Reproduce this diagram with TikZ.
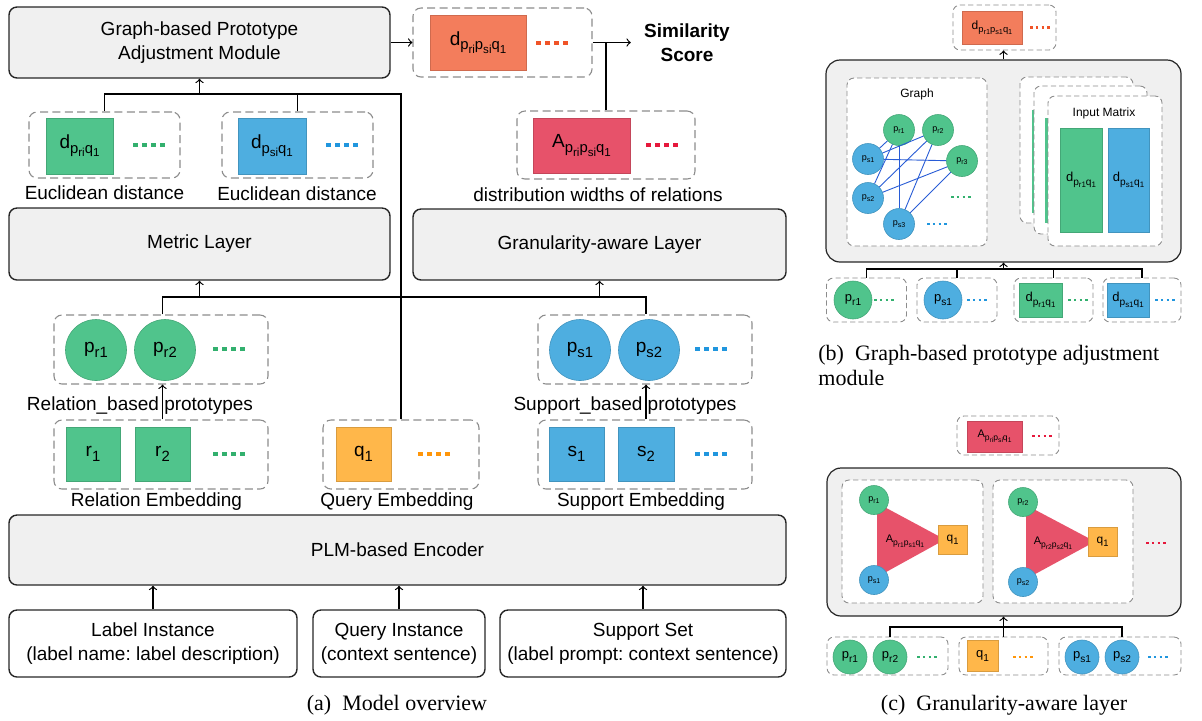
\documentclass[tikz,border=0pt]{standalone}
\usepackage{graphicx}
\usepackage{fontspec}
\setmainfont{Liberation Sans}
\newfontfamily\capfont{Liberation Serif}
\frenchspacing
\definecolor{laygray}{RGB}{240,240,240}
\definecolor{grpgray}{RGB}{140,140,140}
\definecolor{cgreen}{RGB}{80,196,140}
\definecolor{cblue}{RGB}{78,174,224}
\definecolor{corange}{RGB}{255,183,74}
\definecolor{csalmon}{RGB}{243,125,92}
\definecolor{cred}{RGB}{231,82,106}
\definecolor{dgreen}{RGB}{50,176,110}
\definecolor{dblue}{RGB}{32,150,222}
\definecolor{dorange}{RGB}{255,150,10}
\definecolor{dsalmon}{RGB}{240,84,40}
\definecolor{dred}{RGB}{230,24,60}
\definecolor{edgeblue}{RGB}{40,92,214}
\newcommand\sbs[1]{\raisebox{-0.45ex}{\scalebox{0.78}{#1}}}
\newcommand\fsz[1]{\fontsize{#1}{\fpeval{1.26*#1}}\selectfont}
\begin{document}
\begin{tikzpicture}[>=to,x=0.5pt,y=-0.5pt,
	wh/.style 2 args={minimum width=#1*0.5pt,minimum height=#2*0.5pt,inner sep=0pt},
	layerbox/.style={draw=black!85,line width=0.7pt,fill=laygray,rounded corners=4pt,align=center,font=\fsz{9.5}},
	inbox/.style={draw=black!85,line width=0.7pt,rounded corners=4pt,align=center,font=\fsz{9.5}},
	grp/.style={draw=grpgray,line width=0.55pt,dash pattern=on 4pt off 2.2pt,rounded corners=4pt},
	grps/.style={draw=grpgray,line width=0.45pt,dash pattern=on 2.6pt off 1.6pt,rounded corners=3.5pt},
	sq/.style={draw=#1!85!black,line width=0.3pt,fill=#1,inner sep=0pt},
	disc/.style={circle,draw=#1!85!black,line width=0.3pt,fill=#1,inner sep=0pt},
	lbl/.style={font=\fsz{9.5},inner sep=0pt},
	dotrow/.style={line width=2pt,dash pattern=on 2.5pt off 2pt},
	sdots/.style={line width=1.1pt,dash pattern=on 1.3pt off 1.6pt},
	conn/.style={line width=0.6pt},
	captxt/.style={font=\capfont\fsz{11},inner sep=0pt}]
	\useasboundingbox (0,0) rectangle (1202,720);
	% (a) model overview
	\node[layerbox,wh={381}{71}] (gpam) at (199.5,42.5) {Graph-based Prototype\\Adjustment Module};
	\node[grp,wh={179}{69}] (dG) at (502.5,42.5) {};
	\node[sq=csalmon,wh={96}{55},lbl] (dpq) at (478,42.5) {d\sbs{p\sbs{ri}p\sbs{si}q\sbs{1}}};
	\draw[dotrow,dsalmon] (536,42.5) -- ++(32,0);
	\node[font=\bfseries\fsz{9.5},align=center,inner sep=0pt] (sim) at (687,42.5) {Similarity\\Score};
	\node[grp,wh={151}{66}] (driG) at (104.5,145) {};
	\node[sq=cgreen,wh={67}{56},lbl] (dri) at (79.5,146) {d\sbs{p\sbs{ri}q\sbs{1}}};
	\draw[dotrow,dgreen] (133,145) -- ++(32,0);
	\node[lbl] (eu1) at (104.5,193) {Euclidean distance};
	\node[grp,wh={151}{66}] (dsiG) at (297.5,145) {};
	\node[sq=cblue,wh={68}{56},lbl] (dsi) at (272,146) {d\sbs{p\sbs{si}q\sbs{1}}};
	\draw[dotrow,dblue] (326,145) -- ++(32,0);
	\node[lbl] (eu2) at (297,194) {Euclidean distance};
	\node[grp,wh={178}{68}] (aG) at (606,145) {};
	\node[sq=cred,wh={97}{55},lbl] (apq) at (581.5,145.5) {A\sbs{p\sbs{ri}p\sbs{si}q\sbs{1}}};
	\draw[dotrow,dred] (646,145) -- ++(32,0);
	\node[lbl] (dw) at (598,195) {distribution widths of relations};
	\node[layerbox,wh={381}{72}] (metric) at (199.5,244) {Metric Layer};
	\node[layerbox,wh={373}{71}] (gran) at (599.5,244.5) {Granularity-aware Layer};
	\node[grp,wh={214}{69}] (prG) at (161,349.5) {};
	\node[disc=cgreen,minimum size=61*0.5pt,lbl] (pr1) at (96,350) {p\sbs{r1}};
	\node[disc=cgreen,minimum size=61*0.5pt,lbl] (pr2) at (165,350) {p\sbs{r2}};
	\draw[dotrow,dgreen] (213,349) -- ++(32,0);
	\node[lbl] (rbp) at (140,406) {Relation\_based prototypes};
	\node[grp,wh={214}{69}] (psG) at (645,349.5) {};
	\node[disc=cblue,minimum size=61*0.5pt,lbl] (ps1) at (580,350) {p\sbs{s1}};
	\node[disc=cblue,minimum size=61*0.5pt,lbl] (ps2) at (649,350) {p\sbs{s2}};
	\draw[dotrow,dblue] (695,349) -- ++(32,0);
	\node[lbl] (sbp) at (625,406) {Support\_based prototypes};
	\node[grp,wh={214}{69}] (rG) at (161,454.5) {};
	\node[sq=cgreen,wh={54}{54},lbl] (r1) at (93,454) {r\sbs{1}};
	\node[sq=cgreen,wh={55}{54},lbl] (r2) at (162.5,454) {r\sbs{2}};
	\draw[dotrow,dgreen] (213,454) -- ++(32,0);
	\node[lbl] (remb) at (156.5,502) {Relation Embedding};
	\node[grp,wh={156}{69}] (qG) at (401,454.5) {};
	\node[sq=corange,wh={55}{54},lbl] (q1) at (363.5,454) {q\sbs{1}};
	\draw[dotrow,dorange] (418,454) -- ++(32,0);
	\node[lbl] (qemb) at (397,502) {Query Embedding};
	\node[grp,wh={214}{69}] (sG) at (645,454.5) {};
	\node[sq=cblue,wh={55}{54},lbl] (s1) at (576.5,454) {s\sbs{1}};
	\node[sq=cblue,wh={56}{54},lbl] (s2) at (646,454) {s\sbs{2}};
	\draw[dotrow,dblue] (695,454) -- ++(32,0);
	\node[lbl] (semb) at (641,502) {Support Embedding};
	\node[layerbox,wh={777}{70}] (plm) at (397.5,550) {PLM-based Encoder};
	\node[inbox,wh={288}{67}] (lab) at (153,643.5) {Label Instance\\(label name: label description)};
	\node[inbox,wh={172}{67}] (qin) at (399,643.5) {Query Instance\\(context sentence)};
	\node[inbox,wh={286}{67}] (sset) at (643,643.5) {Support Set\\(label prompt: context sentence)};
	\node[captxt] (capa) at (397,705) {(a)~~Model overview};
	\coordinate (ej) at (0,94);
	\coordinate (pj) at (0,297);
	\draw[conn,->] (lab.north) -- (lab.north |- plm.south);
	\draw[conn,->] (qin.north) -- (qin.north |- plm.south);
	\draw[conn,->] (sset.north) -- (sset.north |- plm.south);
	\draw[conn,->] (rG.north -| r2) -- (prG.south -| r2);
	\draw[conn,->] (sG.north -| s2) -- (psG.south -| s2);
	\draw[conn] (prG.north -| r2) |- (pj -| s2) -- (psG.north -| s2);
	\draw[conn,->] (metric.south |- pj) -- (metric.south);
	\draw[conn,->] (gran.south |- pj) -- (gran.south);
	\draw[conn] (qG.north) |- (ej -| driG.north) -- (driG.north);
	\draw[conn] (dsiG.north) -- (dsiG.north |- ej);
	\draw[conn,->] (gpam.south |- ej) -- (gpam.south);
	\draw[conn,->] (gpam.east) -- (dG.west);
	\draw[conn,->] (dG.east) -- ([xshift=-6.5pt]sim.west);
	\draw[conn] (aG.north) -- (aG.north |- dG.east);
	% (b) graph-based prototype adjustment module
	\node[grps,wh={103}{45}] (bdG) at (1004.5,27.5) {};
	\node[sq=csalmon,wh={60}{33},font=\fsz{6}] (bdpq) at (992,27.5) {d\sbs{p\sbs{r1}p\sbs{s1}q\sbs{1}}};
	\draw[sdots,dsalmon] (1030,27.5) -- ++(20,0);
	\node[layerbox,line width=0.6pt,wh={355}{202},rounded corners=7pt] (gbox) at (1003.5,161) {};
	\draw[conn,->] (gbox.north) -- (gbox.north |- bdG.south);
	\node[grps,wh={140}{168},fill=white] (graphG) at (917,162) {};
	\node[font=\fsz{6},inner sep=0pt] (graphT) at (917,94) {Graph};
	\foreach \n/\x/\y in {r1/899/130,r2/938/130,r3/962/161}
		\node[disc=cgreen,minimum size=31*0.5pt,font=\fsz{4.5}] (g\n) at (\x,\y) {p\sbs{\n}};
	\foreach \n/\x/\y in {s1/868/159,s2/868/198,s3/899/224}
		\node[disc=cblue,minimum size=31*0.5pt,font=\fsz{4.5}] (g\n) at (\x,\y) {p\sbs{\n}};
	\foreach \s in {s1,s2,s3}
		\foreach \r in {r1,r2,r3}
			\draw[edgeblue,line width=0.45pt] (g\s) -- (g\r);
	\draw[sdots,dgreen] (951,197) -- ++(20,0);
	\draw[sdots,dblue] (927,224) -- ++(20,0);
	\node[grps,wh={113}{146},fill=white] (mat3) at (1076.5,150) {};
	\fill[cgreen] (1032,110) rectangle (1034.5,213);
	\node[grps,wh={113}{148},fill=white] (mat2) at (1090.5,160) {};
	\fill[cgreen] (1045,118) rectangle (1047.5,223);
	\node[grps,wh={114}{150},fill=white] (mat1) at (1105,171) {};
	\node[font=\fsz{6},inner sep=0pt] (matT) at (1104,113) {Input Matrix};
	\node[sq=cgreen,wh={42}{104},font=\fsz{6.5}] (mr) at (1081,180) {d\sbs{p\sbs{r1}q\sbs{1}}};
	\node[sq=cblue,wh={41}{104},font=\fsz{6.5}] (ms) at (1128.5,180) {d\sbs{p\sbs{s1}q\sbs{1}}};
	\node[grps,wh={80}{44}] (b1) at (866.5,300) {};
	\node[disc=cgreen,minimum size=38*0.5pt,font=\fsz{6.5}] (b1p) at (853,300) {p\sbs{r1}};
	\draw[sdots,dgreen] (874,300) -- ++(20,0);
	\node[grps,wh={80}{44}] (b2) at (957,300) {};
	\node[disc=cblue,minimum size=38*0.5pt,font=\fsz{6.5}] (b2p) at (943,300) {p\sbs{s1}};
	\draw[sdots,dblue] (967,300) -- ++(20,0);
	\node[grps,wh={79}{44}] (b3) at (1053.5,300) {};
	\node[sq=cgreen,wh={43}{34},font=\fsz{6.5}] (b3d) at (1040.5,300) {d\sbs{p\sbs{r1}q\sbs{1}}};
	\draw[sdots,dgreen] (1068,300) -- ++(20,0);
	\node[grps,wh={78}{44}] (b4) at (1142,300) {};
	\node[sq=cblue,wh={42}{34},font=\fsz{6.5}] (b4d) at (1128,300) {d\sbs{p\sbs{s1}q\sbs{1}}};
	\draw[sdots,dblue] (1155,300) -- ++(20,0);
	\coordinate (bj) at (0,269);
	\draw[conn] (b1.north) |- (bj -| b4.north) -- (b4.north);
	\draw[conn] (b2.north) -- (b2.north |- bj);
	\draw[conn] (b3.north) -- (b3.north |- bj);
	\draw[conn,->] (gbox.south |- bj) -- (gbox.south);
	\node[captxt,align=left,anchor=west,font=\capfont\fontsize{11}{12.5}\selectfont] (capb) at (818,365.5) {(b)~~Graph-based prototype adjustment\\module};
	% (c) granularity-aware layer
	\node[grps,wh={102}{39}] (cAG) at (1008,435.5) {};
	\node[sq=cred,wh={55}{31},font=\fsz{5.5}] (cApq) at (994.5,436.5) {A\sbs{p\sbs{ri}p\sbs{si}q\sbs{1}}};
	\draw[sdots,dred] (1032,436) -- ++(20,0);
	\node[layerbox,line width=0.6pt,wh={354}{148},rounded corners=7pt] (cbox) at (1004,542) {};
	\node[grps,wh={141}{123},fill=white] (tri1) at (912.5,541.5) {};
	\node[grps,wh={140}{123},fill=white] (tri2) at (1063,541.5) {};
	\fill[cred] (877,503) -- (877,577) -- (945,539.5) -- cycle;
	\fill[cred] (1026,505) -- (1026,579) -- (1095,541.5) -- cycle;
	\node[disc=cgreen,minimum size=29*0.5pt,font=\fsz{4.5}] (t1r) at (874,500) {p\sbs{r1}};
	\node[disc=cblue,minimum size=29*0.5pt,font=\fsz{4.5}] (t1s) at (874,580) {p\sbs{s1}};
	\node[sq=corange,wh={29}{29},font=\fsz{6}] (t1q) at (952.5,539.5) {q\sbs{1}};
	\node[font=\fsz{5.5},inner sep=0pt] (t1a) at (905,541) {A\sbs{p\sbs{r1}p\sbs{s1}q\sbs{1}}};
	\node[disc=cgreen,minimum size=29*0.5pt,font=\fsz{4.5}] (t2r) at (1023,502) {p\sbs{r2}};
	\node[disc=cblue,minimum size=29*0.5pt,font=\fsz{4.5}] (t2s) at (1023,582) {p\sbs{s2}};
	\node[sq=corange,wh={29}{29},font=\fsz{6}] (t2q) at (1102.5,541.5) {q\sbs{1}};
	\node[font=\fsz{5.5},inner sep=0pt] (t2a) at (1053,543) {A\sbs{p\sbs{r2}p\sbs{s2}q\sbs{1}}};
	\draw[sdots,dred] (1146,543) -- ++(20,0);
	\node[grps,wh={121}{38}] (c1) at (887.5,656) {};
	\node[disc=cgreen,minimum size=34*0.5pt,font=\fsz{6.5}] (c1a) at (850,657) {p\sbs{r1}};
	\node[disc=cgreen,minimum size=34*0.5pt,font=\fsz{6.5}] (c1b) at (890,657) {p\sbs{r2}};
	\draw[sdots,dgreen] (917,657) -- ++(20,0);
	\node[grps,wh={89}{38}] (c2) at (1003.5,656) {};
	\node[sq=corange,wh={31}{31},font=\fsz{6.5}] (c2q) at (982.5,656) {q\sbs{1}};
	\draw[sdots,dorange] (1013,657) -- ++(20,0);
	\node[grps,wh={122}{38}] (c3) at (1120,656) {};
	\node[disc=cblue,minimum size=34*0.5pt,font=\fsz{6.5}] (c3a) at (1082,657) {p\sbs{s1}};
	\node[disc=cblue,minimum size=34*0.5pt,font=\fsz{6.5}] (c3b) at (1122,657) {p\sbs{s2}};
	\draw[sdots,dblue] (1148,657) -- ++(20,0);
	\coordinate (cj) at (0,627);
	\draw[conn] (c1.north -| c1b) |- (cj -| c3b) -- (c3.north -| c3b);
	\draw[conn,->] (c2.north) -- (c2.north |- cbox.south);
	\node[captxt] (capc) at (1004,705) {(c)~~Granularity-aware layer};
\end{tikzpicture}
\end{document}
